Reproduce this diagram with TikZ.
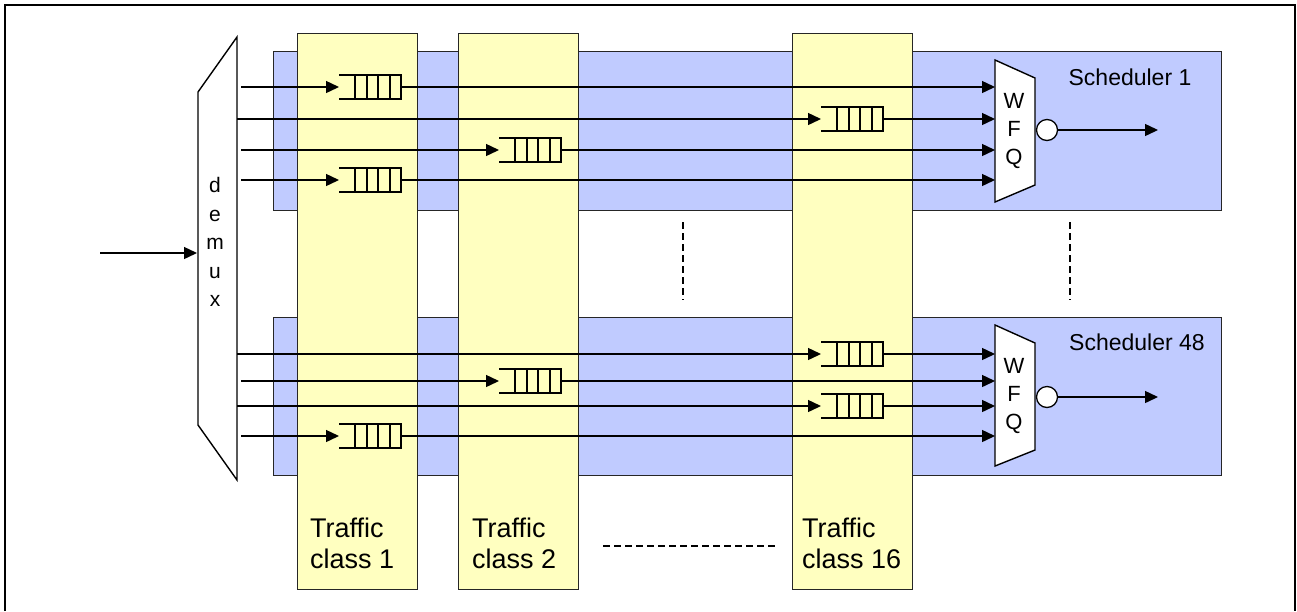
\documentclass[tikz,border=0pt]{standalone}
\usepackage{fontspec}
\setmainfont{Liberation Sans}
\usetikzlibrary{arrows.meta}
\definecolor{schedblue}{RGB}{192,203,255}
\definecolor{classyellow}{RGB}{255,255,192}
\tikzset{
  schedbox/.style={fill=schedblue, draw=black!85, line width=1.3pt},
  classbox/.style={fill=classyellow, draw=black!85, line width=1.3pt},
  flow/.style={line width=1.4pt},
  arr/.style={flow, -{Triangle[length=13pt,width=12pt]}},
  qbox/.style={rectangle, minimum width=62pt, minimum height=24pt, inner sep=0pt, outer sep=0pt, fill=classyellow},
  qline/.style={line width=1.4pt},
  wfqshape/.style={fill=white, draw=black, line width=1.4pt},
  dotsline/.style={line width=1.5pt, dash pattern=on 7pt off 4pt},
  clslabel/.style={font=\fontsize{27}{31}\selectfont, anchor=base west, inner sep=0pt},
  schedlabel/.style={font=\fontsize{23}{26}\selectfont, inner sep=0pt},
  lettercol/.style={font=\fontsize{22}{28}\selectfont, align=center, inner sep=0pt},
  outcircle/.style={circle, draw=black, line width=1.3pt, minimum size=21pt, inner sep=0pt, fill=white},
}
\newcommand\myqueue[3]{%
  \node[qbox] (#1) at (#2+31,#3) {};
  \draw[qline] (#1.north west) -- (#1.north east) -- (#1.south east) -- (#1.south west);
  \foreach \d in {16,28,39,51} {\draw[qline] ([xshift=\d pt]#1.north west) -- ([xshift=\d pt]#1.south west);}
}
\begin{document}
\begin{tikzpicture}[x=1pt,y=-1pt]
\useasboundingbox (0,0) rectangle (1297,611);
% outer frame
\draw[line width=1.4pt] (5,611) -- (5,5) -- (1295,5) -- (1295,611);

% scheduler areas
\node[schedbox, rectangle, minimum width=948pt, minimum height=159pt, inner sep=0pt, anchor=north west] (s1) at (273,51) {};
\node[schedbox, rectangle, minimum width=948pt, minimum height=158pt, inner sep=0pt, anchor=north west] (s48) at (273,317) {};

% traffic class columns
\node[classbox, rectangle, minimum width=120pt, minimum height=556pt, inner sep=0pt, anchor=north west] (tc1) at (297,33) {};
\node[classbox, rectangle, minimum width=120pt, minimum height=556pt, inner sep=0pt, anchor=north west] (tc2) at (458,33) {};
\node[classbox, rectangle, minimum width=120pt, minimum height=556pt, inner sep=0pt, anchor=north west] (tc16) at (792,33) {};

\node[clslabel] (l1a) at (310,537) {Traffic};
\node[clslabel] (l1b) at (310,568) {class 1};
\node[clslabel] (l2a) at (472,537) {Traffic};
\node[clslabel] (l2b) at (472,568) {class 2};
\node[clslabel] (l16a) at (802,537) {Traffic};
\node[clslabel] (l16b) at (802,568) {class 16};

% demux
\draw[wfqshape] (237,37) -- (198,92) -- (198,425) -- (237,480) -- cycle;
\node[lettercol, font=\fontsize{21}{28.5}\selectfont] (demux) at (215,242) {d\\e\\m\\u\\x};
\coordinate (in0) at (100,253);
\coordinate (dmin) at (197,253);
\draw[arr] (in0) -- (dmin);

% WFQ 1
\draw[wfqshape] (995,60) -- (1035,78) -- (1035,185) -- (995,202) -- cycle;
\node[lettercol] (wfq1) at (1014,131) {W\\F\\Q};
\node[outcircle] (c1) at (1047,130) {};
\coordinate (o1) at (1158,130);
\draw[arr] (c1.east) -- (o1);
\node[schedlabel] (sl1) at (1130,77) {Scheduler 1};

% WFQ 48
\draw[wfqshape] (995,325) -- (1035,343) -- (1035,450) -- (995,466) -- cycle;
\node[lettercol] (wfq48) at (1014,396) {W\\F\\Q};
\node[outcircle] (c48) at (1047,397) {};
\coordinate (o48) at (1158,397);
\draw[arr] (c48.east) -- (o48);
\node[schedlabel] (sl48) at (1137,342) {Scheduler 48};

% queues
\myqueue{qa}{339}{87}
\myqueue{qb}{821}{119}
\myqueue{qc}{499}{150}
\myqueue{qd}{339}{180}
\myqueue{qe}{821}{354}
\myqueue{qf}{499}{381}
\myqueue{qg}{821}{406}
\myqueue{qh}{339}{436}

% flow start points (demux outputs)
\coordinate (d1) at (241,87);
\coordinate (d2) at (237,119);
\coordinate (d3) at (241,150);
\coordinate (d4) at (241,180);
\coordinate (d5) at (237,354);
\coordinate (d6) at (241,381);
\coordinate (d7) at (237,406);
\coordinate (d8) at (241,436);
% WFQ inputs
\coordinate (w1) at (995,87);
\coordinate (w2) at (995,119);
\coordinate (w3) at (995,150);
\coordinate (w4) at (995,180);
\coordinate (w5) at (995,354);
\coordinate (w6) at (995,381);
\coordinate (w7) at (995,406);
\coordinate (w8) at (995,436);

\draw[arr] (d1) -- (qa.west);  \draw[arr] (qa.east) -- (w1);
\draw[arr] (d2) -- (qb.west);  \draw[arr] (qb.east) -- (w2);
\draw[arr] (d3) -- (qc.west);  \draw[arr] (qc.east) -- (w3);
\draw[arr] (d4) -- (qd.west);  \draw[arr] (qd.east) -- (w4);
\draw[arr] (d5) -- (qe.west);  \draw[arr] (qe.east) -- (w5);
\draw[arr] (d6) -- (qf.west);  \draw[arr] (qf.east) -- (w6);
\draw[arr] (d7) -- (qg.west);  \draw[arr] (qg.east) -- (w7);
\draw[arr] (d8) -- (qh.west);  \draw[arr] (qh.east) -- (w8);

% continuation dots
\coordinate (v1a) at (683,222); \coordinate (v1b) at (683,300);
\coordinate (v2a) at (1070,222); \coordinate (v2b) at (1070,300);
\coordinate (h1a) at (603,546); \coordinate (h1b) at (776,546);
\draw[dotsline] (v1a) -- (v1b);
\draw[dotsline] (v2a) -- (v2b);
\draw[dotsline] (h1a) -- (h1b);
\end{tikzpicture}
\end{document}
